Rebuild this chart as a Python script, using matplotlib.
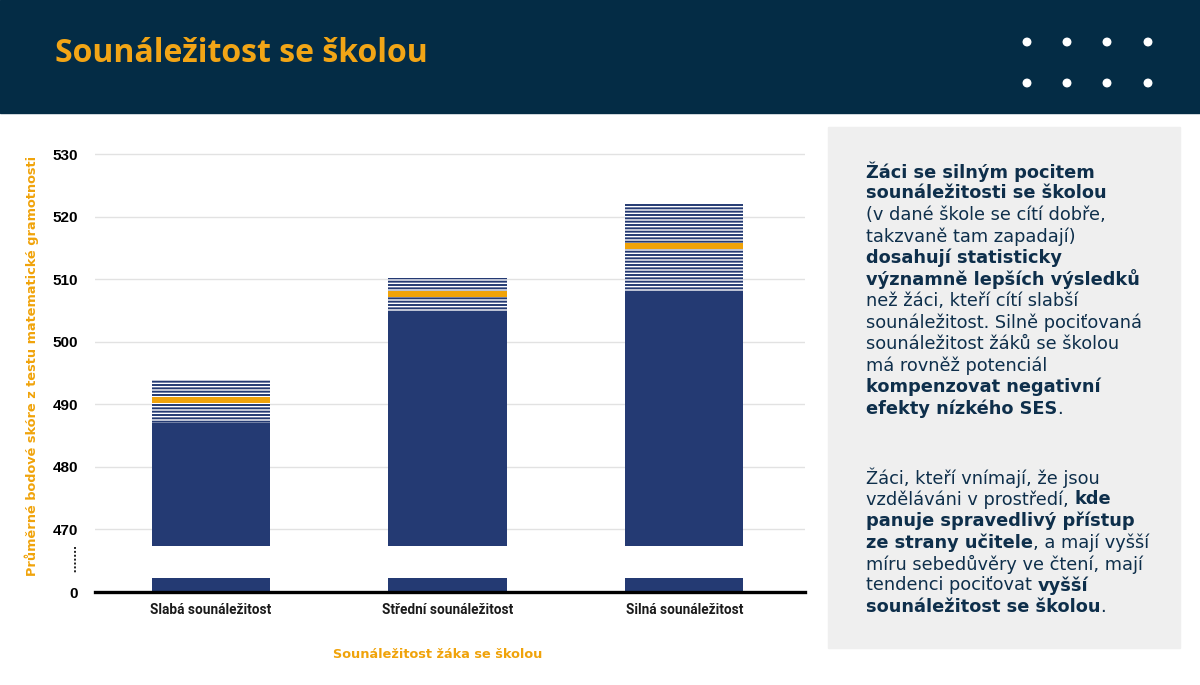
import matplotlib
matplotlib.use('Agg')
import matplotlib.pyplot as plt
from matplotlib.patches import Rectangle, Ellipse
from matplotlib.lines import Line2D

# values
categories = ['Slabá sounáležitost', 'Střední sounáležitost', 'Silná sounáležitost']
ci_low = [487.0, 504.9, 508.1]
ci_high = [493.8, 510.1, 522.1]
means = [490.6, 507.6, 515.3]
upper_ticks = [470, 480, 490, 500, 510, 520, 530]

NAVY = '#243A73'
ORANGE = '#F0A30A'
HEADER = '#042C45'
TEXT = '#0E2F4B'

plt.rcParams['hatch.linewidth'] = 1.4

W, H = 1200, 685
fig = plt.figure(figsize=(W / 100, H / 100), dpi=100)


def fx(px):
    return px / W


def fy(py):
    return 1 - py / H


# header band
fig.patches.append(Rectangle((0, fy(113)), 1, 113 / H, transform=fig.transFigure,
                             color=HEADER, zorder=0))
fig.text(fx(55), fy(53), 'Sounáležitost se školou', color='#F2A516', fontsize=23,
         fontweight='bold', family='Open Sans', va='center', ha='left')
for cx in [1027, 1067, 1107, 1148]:
    for cy in [42, 83]:
        fig.patches.append(Ellipse((fx(cx), fy(cy)), 7.5 / W, 7.5 / H,
                                   transform=fig.transFigure, color='white', zorder=2))

# grey side panel
fig.patches.append(Rectangle((fx(828), fy(648)), fx(1180) - fx(828), (648 - 127) / H,
                             transform=fig.transFigure, color='#EFEFEF', zorder=0))

# upper (broken) axis and the stub below the break
ax = fig.add_axes([fx(95), fy(546), fx(805) - fx(95), (546 - 147.75) / H])
ax_low = fig.add_axes([fx(95), fy(592), fx(805) - fx(95), 14 / H])

x = list(range(len(categories)))
width = 0.5
heights = [h - l for h, l in zip(ci_high, ci_low)]
for a in (ax, ax_low):
    a.bar(x, ci_low, width=width, color=NAVY, zorder=2)
    a.bar(x, heights, bottom=ci_low, width=width, facecolor='white', edgecolor=NAVY,
          hatch='-----', linewidth=0, zorder=2)
    a.bar(x, [1.0] * len(means), bottom=[m - 0.5 for m in means], width=width,
          color=ORANGE, zorder=3)
    a.set_xlim(-0.49, 2.51)
    for s in a.spines.values():
        s.set_visible(False)
    a.tick_params(length=0)

ax.set_ylim(467.3, 531)
ax.set_yticks(upper_ticks)
ax.set_xticks([])
ax.grid(axis='y', color='#E2E2E2', linewidth=1)
ax.set_axisbelow(True)
for lab in ax.get_yticklabels():
    lab.set_fontfamily('Liberation Sans')
    lab.set_fontweight('bold')
    lab.set_fontsize(11)
ax.tick_params(axis='y', pad=12)

ax_low.set_ylim(0, 1)
ax_low.set_yticks([0])
ax_low.set_xticks(x)
ax_low.set_xticklabels(categories, fontfamily='Roboto', fontweight='bold', fontsize=9.8)
ax_low.spines['bottom'].set_visible(True)
ax_low.spines['bottom'].set_linewidth(2.4)
ax_low.spines['bottom'].set_color('black')
ax_low.tick_params(axis='x', pad=8, labelcolor='#1a1a1a')
ax_low.tick_params(axis='y', pad=12)
for lab in ax_low.get_yticklabels():
    lab.set_fontfamily('Liberation Sans')
    lab.set_fontweight('bold')
    lab.set_fontsize(11)

# axis break marker
fig.lines.append(Line2D([fx(75), fx(75)], [fy(547), fy(573)], transform=fig.transFigure,
                        color='#222222', linestyle=(0, (1, 1)), linewidth=1.4))

fig.text(fx(32), fy(366), 'Průměrné bodové skóre z testu matematické gramotnosti',
         rotation=90, color=ORANGE, fontsize=9.3, fontweight='bold', ha='center', va='center')
fig.text(fx(438), fy(655), 'Sounáležitost žáka se školou', color=ORANGE, fontsize=9.3,
         fontweight='bold', ha='center', va='center')

# side text with mixed bold runs
renderer = fig.canvas.get_renderer()


def draw_runs(px, py, runs):
    xx = fx(px)
    for s, bold in runs:
        t = fig.text(xx, fy(py), s, color=TEXT, fontsize=12.8, ha='left', va='center',
                     fontweight='bold' if bold else 'normal')
        bb = t.get_window_extent(renderer)
        xx = fig.transFigure.inverted().transform((bb.x1, bb.y0))[0]


para1 = [
    [('Žáci se silným pocitem', True)],
    [('sounáležitosti se školou', True)],
    [('(v dané škole se cítí dobře,', False)],
    [('takzvaně tam zapadají)', False)],
    [('dosahují statisticky', True)],
    [('významně lepších výsledků', True)],
    [('než žáci, kteří cítí slabší', False)],
    [('sounáležitost. Silně pociťovaná', False)],
    [('sounáležitost žáků se školou', False)],
    [('má rovněž potenciál', False)],
    [('kompenzovat negativní', True)],
    [('efekty nízkého SES', True), ('.', False)],
]
para2 = [
    [('Žáci, kteří vnímají, že jsou', False)],
    [('vzděláváni v prostředí, ', False), ('kde', True)],
    [('panuje spravedlivý přístup', True)],
    [('ze strany učitele', True), (', a mají vyšší', False)],
    [('míru sebedůvěry ve čtení, mají', False)],
    [('tendenci pociťovat ', False), ('vyšší', True)],
    [('sounáležitost se školou', True), ('.', False)],
]
for i, line in enumerate(para1):
    draw_runs(866, 172 + i * 21.5, line)
for i, line in enumerate(para2):
    draw_runs(866, 478 + i * 21.5, line)

fig.savefig('out.png', dpi=100)
